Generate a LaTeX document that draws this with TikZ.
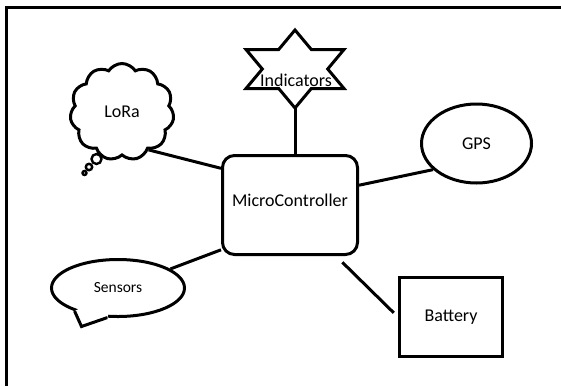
\documentclass[tikz,border=0pt]{standalone}
\usepackage{fontspec}
\setmainfont{Carlito}
\usetikzlibrary{shapes.geometric,shapes.symbols,calc}
\begin{document}
\begin{tikzpicture}[x=1pt,y=-1pt,line width=3pt,
  bigtxt/.style={font=\fontsize{18}{20}\selectfont},
  smalltxt/.style={font=\fontsize{15.5}{18}\selectfont},
  conn/.style={draw=black,line width=3pt},
  bubble/.style={draw=black,line width=2.4pt}]
\useasboundingbox (0,0) rectangle (561,386);
% frame
\draw (6.7,386) -- (6.7,7) -- (561,7);
% microcontroller
\node[draw,rounded corners=12pt,minimum width=135pt,minimum height=99pt,
  label={[bigtxt,yshift=5pt]center:MicroController}] (mc) at (290,205) {};
% star
\draw[line join=miter] (295,30) -- (311.3,49.5) -- (344,49.5) -- (327.7,69) -- (344,88.5)
  -- (311.3,88.5) -- (295,108) -- (278.7,88.5) -- (246,88.5) -- (262.3,69)
  -- (246,49.5) -- (278.7,49.5) -- cycle;
\coordinate (startip) at (295,108);
\node[bigtxt,inner sep=0pt] (star) at (296,80) {Indicators};
% cloud
\node[cloud,draw,cloud puffs=11,cloud puff arc=115,aspect=1.05,
  minimum width=104pt,minimum height=97pt,bigtxt] (lora) at (122,112) {LoRa};
\draw[bubble] (96.5,159) circle[radius=5];
\draw[bubble] (89,167) circle[radius=3.2];
\draw[bubble] (84.5,173) circle[radius=2];
% GPS
\node[ellipse,draw,minimum width=110pt,minimum height=79pt,bigtxt] (gps) at (476.5,143.5) {GPS};
% Sensors
\node[ellipse,draw,minimum width=133pt,minimum height=57pt,smalltxt] (sens) at (118,288) {Sensors};
\coordinate (tip) at (81.5,326.5);
\fill[white] ($(sens.center)!0.88!(sens.208)$) -- (sens.208) -- (tip) -- (sens.250)
  -- ($(sens.center)!0.88!(sens.250)$) -- cycle;
\draw[line join=miter] (sens.208) -- (tip) -- (sens.250);
% Battery
\node[draw,minimum width=103pt,minimum height=79pt,bigtxt] (bat) at (451,317) {Battery};
% connectors
\draw[conn] (startip) -- (startip |- mc.north);
\draw[conn] (lora.-55) -- (mc.152);
\draw[conn] (mc.16) -- (gps.211);
\draw[conn] (sens.20) -- (mc.213);
\draw[conn,shorten <=9pt,shorten >=6pt] (mc.-48) -- (bat.180);
\end{tikzpicture}
\end{document}
